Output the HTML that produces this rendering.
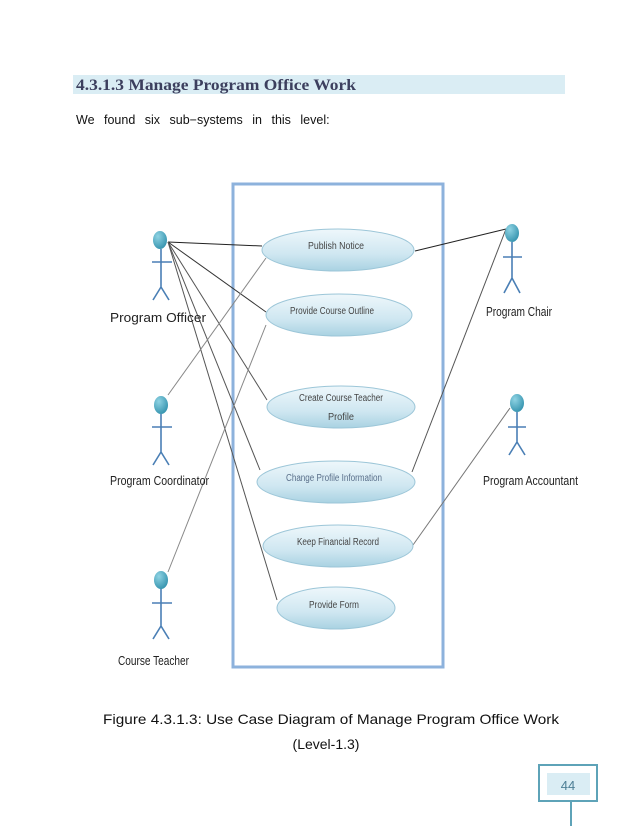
<!DOCTYPE html>
<html><head><meta charset="utf-8"><style>
html,body{margin:0;padding:0;background:#fff;}
body{width:638px;height:826px;position:relative;overflow:hidden;}
</style></head><body>
<svg width="638" height="826" viewBox="0 0 638 826" xmlns="http://www.w3.org/2000/svg">
<defs>
<linearGradient id="eg" x1="0" y1="0" x2="0" y2="1">
<stop offset="0" stop-color="#eef7fb"/><stop offset="0.6" stop-color="#cfe7f1"/><stop offset="1" stop-color="#a9d2e2"/>
</linearGradient>
<radialGradient id="hg" cx="0.35" cy="0.3" r="0.8">
<stop offset="0" stop-color="#8fd3e3"/><stop offset="1" stop-color="#2f8fab"/>
</radialGradient>
</defs>
<rect x="73" y="75" width="492" height="19" fill="#daedf4"/>
<text x="76" y="90" font-family="Liberation Serif, serif" font-weight="bold" font-size="15.5" fill="#3c3f5e" textLength="280" lengthAdjust="spacingAndGlyphs">4.3.1.3 Manage Program Office Work</text>
<text x="76" y="124" font-family="Liberation Sans, sans-serif" font-size="12.5" fill="#111" word-spacing="6">We found six sub−systems in this level:</text>

<rect x="233" y="184" width="210" height="483" fill="none" stroke="#8db2dc" stroke-width="3"/>

<g stroke="#555" stroke-width="1" fill="none">
<line x1="168" y1="242" x2="262" y2="246" stroke="#222"/>
<line x1="168" y1="242" x2="266" y2="312" stroke="#333"/>
<line x1="168" y1="242" x2="267" y2="400"/>
<line x1="168" y1="242" x2="260" y2="470"/>
<line x1="168" y1="242" x2="277" y2="600"/>
<line x1="168" y1="395" x2="266" y2="258" stroke="#888"/>
<line x1="168" y1="572" x2="266" y2="325" stroke="#888"/>
<line x1="506" y1="229" x2="415" y2="251" stroke="#222"/>
<line x1="506" y1="229" x2="412" y2="472"/>
<line x1="510" y1="408" x2="413" y2="545" stroke="#777"/>
</g>

<g stroke="#9cc6d8" stroke-width="1" fill="url(#eg)">
<ellipse cx="338" cy="250" rx="76" ry="21"/>
<ellipse cx="339" cy="315" rx="73" ry="21"/>
<ellipse cx="341" cy="407" rx="74" ry="21"/>
<ellipse cx="336" cy="482" rx="79" ry="21"/>
<ellipse cx="338" cy="546" rx="75" ry="21"/>
<ellipse cx="336" cy="608" rx="59" ry="21"/>
</g>
<g font-family="Liberation Sans, sans-serif" font-size="10" fill="#444" text-anchor="middle" lengthAdjust="spacingAndGlyphs">
<text x="336" y="249" textLength="56" lengthAdjust="spacingAndGlyphs">Publish Notice</text>
<text x="332" y="314" textLength="84" lengthAdjust="spacingAndGlyphs">Provide Course Outline</text>
<text x="341" y="401" textLength="84" lengthAdjust="spacingAndGlyphs">Create Course Teacher</text>
<text x="341" y="420" textLength="26" lengthAdjust="spacingAndGlyphs">Profile</text>
<text x="334" y="481" fill="#5a6f8a" textLength="96" lengthAdjust="spacingAndGlyphs">Change Profile Information</text>
<text x="338" y="545" textLength="82" lengthAdjust="spacingAndGlyphs">Keep Financial Record</text>
<text x="334" y="608" textLength="50" lengthAdjust="spacingAndGlyphs">Provide Form</text>
</g>

<g stroke="#4a7fb5" stroke-width="1.6" fill="none">
<path d="M161 249 V287 M152 262 H172 M161 287 L153 300 M161 287 L169 300"/>
<path d="M161 414 V452 M152 427 H172 M161 452 L153 465 M161 452 L169 465"/>
<path d="M161 588 V626 M152 603 H172 M161 626 L153 639 M161 626 L169 639"/>
<path d="M512 242 V278 M503 257 H522 M512 278 L504 293 M512 278 L520 293"/>
<path d="M517 412 V442 M508 427 H526 M517 442 L509 455 M517 442 L525 455"/>
</g>
<g fill="url(#hg)">
<ellipse cx="160" cy="240" rx="7" ry="9"/>
<ellipse cx="161" cy="405" rx="7" ry="9"/>
<ellipse cx="161" cy="580" rx="7" ry="9"/>
<ellipse cx="512" cy="233" rx="7" ry="9"/>
<ellipse cx="517" cy="403" rx="7" ry="9"/>
</g>
<g font-family="Liberation Sans, sans-serif" font-size="13" fill="#222">
<text x="110" y="322" textLength="96" lengthAdjust="spacingAndGlyphs">Program Officer</text>
<text x="110" y="485" textLength="99" lengthAdjust="spacingAndGlyphs">Program Coordinator</text>
<text x="118" y="665" textLength="71" lengthAdjust="spacingAndGlyphs">Course Teacher</text>
<text x="486" y="316" textLength="66" lengthAdjust="spacingAndGlyphs">Program Chair</text>
<text x="483" y="485" textLength="95" lengthAdjust="spacingAndGlyphs">Program Accountant</text>
</g>

<text x="103" y="724" font-family="Liberation Sans, sans-serif" font-size="14" fill="#111" textLength="456" lengthAdjust="spacingAndGlyphs">Figure 4.3.1.3: Use Case Diagram of Manage Program Office Work</text>
<text x="326" y="749" text-anchor="middle" font-family="Liberation Sans, sans-serif" font-size="14" fill="#111">(Level-1.3)</text>

<rect x="539" y="765" width="58" height="36" fill="#fff" stroke="#5ea3b8" stroke-width="2"/>
<rect x="547" y="773" width="43" height="22" fill="#daedf4"/>
<text x="568" y="790" text-anchor="middle" font-family="Liberation Sans, sans-serif" font-size="13" fill="#4d7f95">44</text>
<line x1="571" y1="801" x2="571" y2="826" stroke="#5ea3b8" stroke-width="2"/>
</svg>
</body></html>
